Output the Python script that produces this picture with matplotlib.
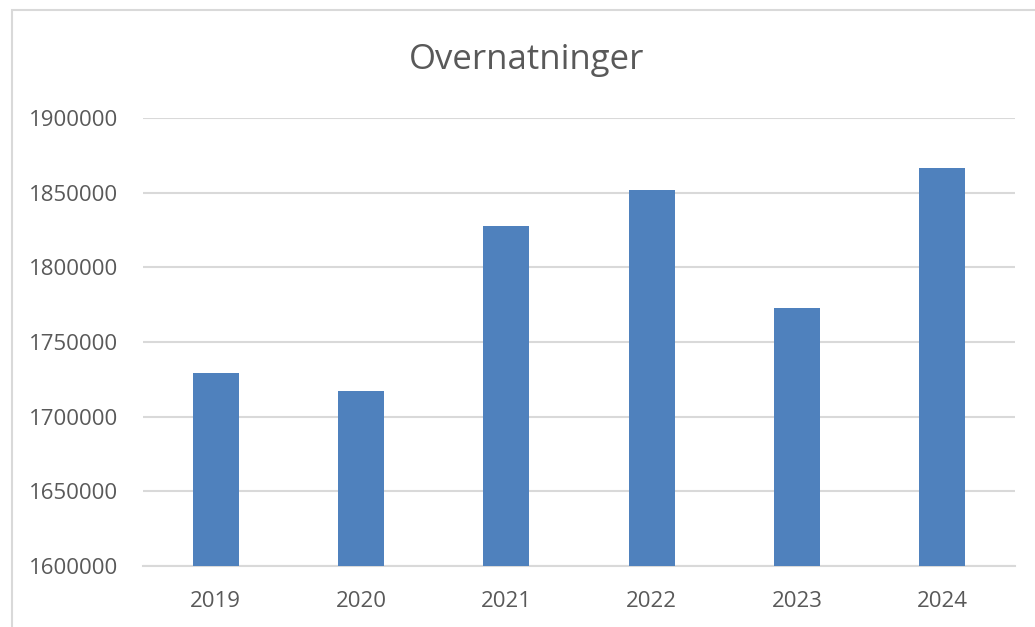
import matplotlib
matplotlib.use("Agg")
import matplotlib.pyplot as plt
from matplotlib.patches import Rectangle

years = ["2019", "2020", "2021", "2022", "2023", "2024"]
overnatninger = [1729000, 1717000, 1828000, 1852000, 1773000, 1866500]
yticks = [1600000, 1650000, 1700000, 1750000, 1800000, 1850000, 1900000]
title = "Overnatninger"

plt.rcParams['font.family'] = ['Open Sans', 'DejaVu Sans']

fig = plt.figure(figsize=(10.35, 6.27), dpi=100)
fig.patch.set_facecolor("white")

# chart area border (top and left visible)
fig.patches.append(Rectangle((12/1035, -0.1), 1.2, (627-10)/627 + 0.1,
                             transform=fig.transFigure, fill=False,
                             edgecolor="#d9d9d9", linewidth=1.5))

ax = fig.add_axes([143/1035, (627-566)/627, (1015-143)/1035, 448/627])
x = range(len(years))
ax.bar(x, overnatninger, width=0.316, color="#4f81bd", zorder=3, bottom=0)
ax.set_ylim(1600000, 1900000)
ax.set_xlim(-0.5, len(years) - 0.5)
ax.set_yticks(yticks)
ax.set_yticklabels([str(v) for v in yticks])
ax.set_xticks(list(x))
ax.set_xticklabels(years)
ax.grid(axis="y", color="#d9d9d9", linewidth=1.5, zorder=0)
for s in ["top", "right", "left"]:
    ax.spines[s].set_visible(False)
ax.spines["bottom"].set_color("#d9d9d9")
ax.spines["bottom"].set_linewidth(1.5)
ax.tick_params(axis="both", length=0, labelsize=16, labelcolor="#595959")
ax.tick_params(axis="y", pad=18)
ax.tick_params(axis="x", pad=18)

fig.text(527/1035, 1 - 60/627, title, ha="center", va="center",
         fontsize=25, color="#595959")

fig.savefig("out.png", dpi=100, facecolor="white")
